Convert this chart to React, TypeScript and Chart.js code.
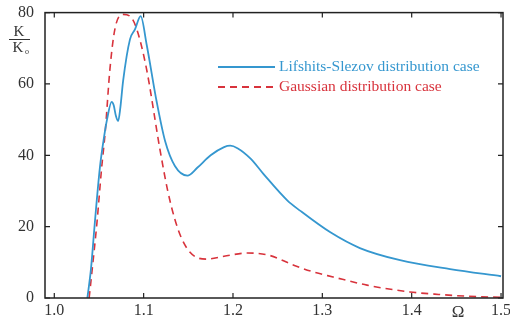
import React, { useEffect, useRef } from "react";
import { Chart, registerables } from "chart.js";

Chart.register(...registerables);

const lsX = [1.037, 1.041, 1.0456, 1.051, 1.055, 1.059, 1.0642, 1.0665, 1.069, 1.0715, 1.074, 1.077, 1.0847, 1.0903, 1.0967, 1.1034, 1.1146, 1.124, 1.135, 1.149, 1.16, 1.175, 1.19, 1.197, 1.205, 1.22, 1.234, 1.261, 1.275, 1.309, 1.342, 1.387, 1.443, 1.5];
const lsY = [0, 8, 21.8, 36.5, 44, 50, 55, 54, 51, 49.6, 53.5, 60.8, 72.5, 75.3, 79, 71, 55, 44, 37, 34.3, 36.5, 40, 42.3, 42.7, 42, 39, 34.8, 27.3, 24.5, 18.4, 14, 10.6, 8.1, 6.1];

const gX = [1.039, 1.042, 1.0477, 1.053, 1.0568, 1.0624, 1.068, 1.077, 1.0847, 1.092, 1.103, 1.118, 1.127, 1.135, 1.142, 1.15, 1.16, 1.171, 1.19, 1.216, 1.24, 1.268, 1.29, 1.312, 1.35, 1.398, 1.43, 1.462, 1.5];
const gY = [0, 7, 21, 36.5, 46, 64.5, 75.6, 79.5, 79, 75.6, 64.5, 42, 30, 22, 17, 13.4, 11.3, 10.9, 11.7, 12.6, 12, 9.2, 7.3, 5.9, 3.6, 1.7, 1.0, 0.5, 0.2];

const xTicks = [1.0, 1.1, 1.2, 1.3, 1.4, 1.5];
const yTicks = [0, 20, 40, 60, 80];

const seriesNames = ["Lifshits-Slezov distribution case", "Gaussian distribution case"];
const BLUE = "#3597cf";
const RED = "#d8333c";
const FONT = '"Liberation Serif", "Times New Roman", serif';

const framePlugin = {
  id: "frame",
  afterDraw(chart: any) {
    const ctx = chart.ctx;
    const { left, right, top, bottom } = chart.chartArea;
    const xs = chart.scales.x;
    const ys = chart.scales.y;
    ctx.save();
    ctx.strokeStyle = "#222";
    ctx.lineWidth = 1.5;
    ctx.strokeRect(left, top, right - left, bottom - top);
    ctx.lineWidth = 1.2;
    ctx.beginPath();
    xTicks.forEach((v) => {
      const px = xs.getPixelForValue(v);
      ctx.moveTo(px, bottom);
      ctx.lineTo(px, bottom - 5);
      ctx.moveTo(px, top);
      ctx.lineTo(px, top + 5);
    });
    yTicks.forEach((v) => {
      const py = ys.getPixelForValue(v);
      ctx.moveTo(left, py);
      ctx.lineTo(left + 5, py);
      ctx.moveTo(right, py);
      ctx.lineTo(right - 5, py);
    });
    ctx.stroke();

    // legend
    ctx.font = "15.5px " + FONT;
    ctx.textBaseline = "middle";
    ctx.textAlign = "left";
    ctx.lineWidth = 1.8;
    ctx.strokeStyle = BLUE;
    ctx.beginPath();
    ctx.moveTo(218, 67);
    ctx.lineTo(275, 67);
    ctx.stroke();
    ctx.fillStyle = BLUE;
    ctx.fillText(seriesNames[0], 279, 67);
    ctx.strokeStyle = RED;
    ctx.setLineDash([7, 5]);
    ctx.beginPath();
    ctx.moveTo(218, 87);
    ctx.lineTo(275, 87);
    ctx.stroke();
    ctx.setLineDash([]);
    ctx.fillStyle = RED;
    ctx.fillText(seriesNames[1], 279, 87);

    // axis labels
    ctx.fillStyle = "#333";
    ctx.textAlign = "center";
    ctx.font = "17px " + FONT;
    ctx.fillText("Ω", 458, 313);
    ctx.font = "15px " + FONT;
    ctx.fillText("K", 19, 32);
    ctx.fillText("K", 18, 48);
    ctx.font = "8px " + FONT;
    ctx.fillText("o", 27, 52);
    ctx.strokeStyle = "#333";
    ctx.lineWidth = 1;
    ctx.beginPath();
    ctx.moveTo(9, 39.5);
    ctx.lineTo(30, 39.5);
    ctx.stroke();
    ctx.restore();
  },
};

export default function App() {
  const ref = useRef<HTMLCanvasElement | null>(null);
  useEffect(() => {
    if (!ref.current) return;
    const chart = new Chart(ref.current, {
      type: "line",
      data: {
        datasets: [
          {
            label: seriesNames[0],
            data: lsX.map((x, i) => ({ x, y: lsY[i] })),
            borderColor: BLUE,
            borderWidth: 1.8,
            pointRadius: 0,
            cubicInterpolationMode: "monotone",
            fill: false,
          },
          {
            label: seriesNames[1],
            data: gX.map((x, i) => ({ x, y: gY[i] })),
            borderColor: RED,
            borderWidth: 1.6,
            borderDash: [7, 5],
            pointRadius: 0,
            cubicInterpolationMode: "monotone",
            fill: false,
          },
        ],
      },
      options: {
        responsive: false,
        animation: false,
        layout: { padding: { top: 11, right: 7, left: 0, bottom: 0 } },
        plugins: { legend: { display: false }, tooltip: { enabled: false } },
        scales: {
          x: {
            type: "linear",
            min: 0.9896,
            max: 1.5022,
            grid: { display: false },
            border: { display: false },
            afterBuildTicks: (s: any) => {
              s.ticks = xTicks.map((v) => ({ value: v }));
            },
            afterFit: (s: any) => {
              s.height = 24;
            },
            ticks: {
              autoSkip: false,
              maxRotation: 0,
              padding: -5,
              color: "#333",
              font: { family: FONT, size: 16 },
              callback: (v: any) => Number(v).toFixed(1),
            },
          },
          y: {
            type: "linear",
            min: 0,
            max: 80,
            grid: { display: false },
            border: { display: false },
            afterBuildTicks: (s: any) => {
              s.ticks = yTicks.map((v) => ({ value: v }));
            },
            afterFit: (s: any) => {
              s.width = 45;
            },
            ticks: {
              padding: 3,
              color: "#333",
              font: { family: FONT, size: 16 },
            },
          },
        },
      },
      plugins: [framePlugin],
    });
    return () => chart.destroy();
  }, []);
  return (
    <div style={{ position: "fixed", left: 0, top: 0, width: 510, height: 322, background: "#fff" }}>
      <canvas ref={ref} width={510} height={322} style={{ width: 510, height: 322 }} />
    </div>
  );
}
